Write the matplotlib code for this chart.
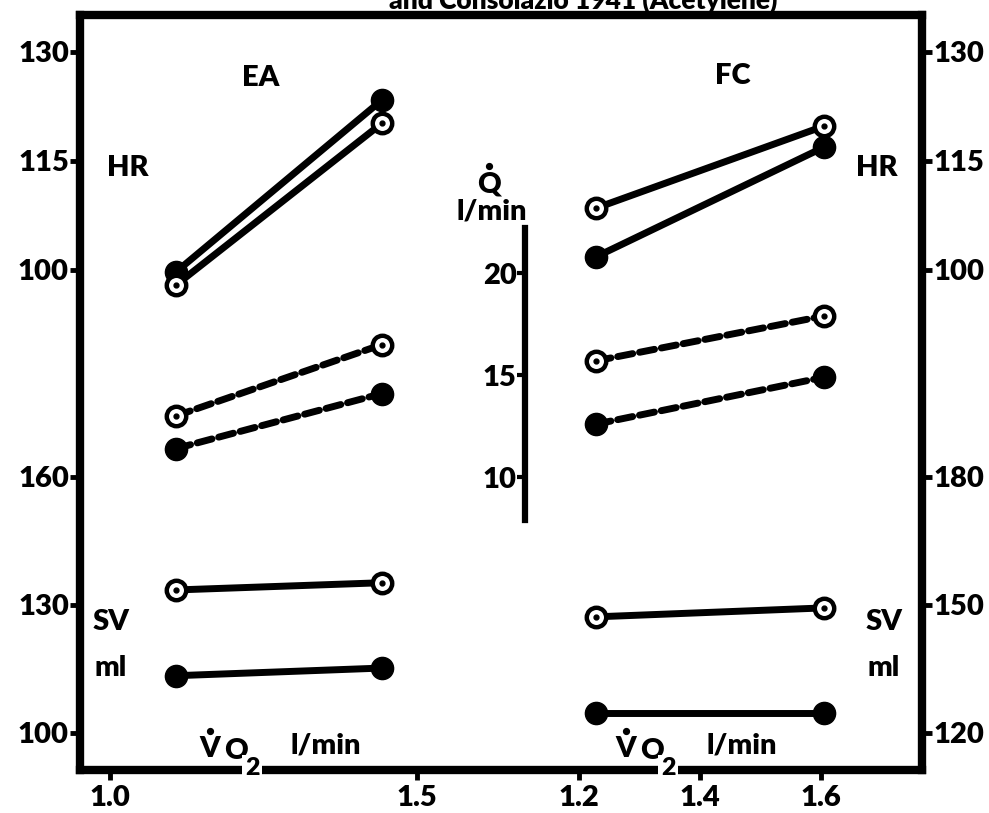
import matplotlib
matplotlib.use("Agg")
import matplotlib.pyplot as plt
from matplotlib.lines import Line2D

plt.rcParams['font.family'] = ['Lato', 'DejaVu Sans']
plt.rcParams['font.weight'] = 'heavy'

# ---- data -------------------------------------------------------------
# O2 uptake (l/min) at the two work levels for each subject
ea_vo2 = [1.107, 1.443]
fc_vo2 = [1.228, 1.605]

# heart rate (beats/min): open = first series, filled = second series
ea_hr_open = [97.9, 120.2]
ea_hr_filled = [99.7, 123.4]
fc_hr_open = [108.5, 119.8]
fc_hr_filled = [101.8, 116.9]

# cardiac output Q (l/min)
ea_q_open = [13.0, 16.5]
ea_q_filled = [11.4, 14.1]
fc_q_open = [15.7, 17.9]
fc_q_filled = [12.6, 14.9]

# stroke volume (ml)
ea_sv_open = [133.5, 135.2]
ea_sv_filled = [113.4, 115.2]
fc_sv_open = [147.2, 149.3]
fc_sv_filled = [124.7, 124.7]

# tick values / labels
ea_xticks = [1.0, 1.5]
fc_xticks = [1.2, 1.4, 1.6]
hr_ticks = [100, 115, 130]
sv_left_ticks = [100, 130, 160]
sv_right_ticks = [120, 150, 180]
q_ticks = [10, 15, 20]

# ---- figure ------------------------------------------------------------
W, H = 989, 813
fig = plt.figure(figsize=(W / 100, H / 100), dpi=100)
fig.patch.set_facecolor('white')

L, R, T, B = 80, 922, 15, 770
rect = [L / W, 1 - B / H, (R - L) / W, (B - T) / H]

ea_xlim = (0.951, 2.3225)
fc_xlim = (0.3752, 1.767)
hr_ylim = (31.17, 135.09)
sv_l_ylim = (91.3, 268.28)
sv_r_ylim = (sv_l_ylim[0] + 20, sv_l_ylim[1] + 20)
q_ylim = (-4.35, 32.65)

FS = 21
WT = 'heavy'
SPW = 6.0


def new_axes(xlim, ylim, zorder):
    ax = fig.add_axes(rect, zorder=zorder)
    ax.set_xlim(*xlim)
    ax.set_ylim(*ylim)
    ax.patch.set_visible(False)
    for s in ax.spines.values():
        s.set_visible(False)
    ax.set_xticks([])
    ax.set_yticks([])
    return ax


ax_ea_hr = new_axes(ea_xlim, hr_ylim, 5)
ax_ea_q = new_axes(ea_xlim, q_ylim, 5)
ax_ea_sv = new_axes(ea_xlim, sv_l_ylim, 5)
ax_fc_hr = new_axes(fc_xlim, hr_ylim, 5)
ax_fc_q = new_axes(fc_xlim, q_ylim, 5)
ax_fc_sv = new_axes(fc_xlim, sv_r_ylim, 5)

# frame
for ax, side in [(ax_ea_hr, 'left'), (ax_ea_hr, 'top'), (ax_ea_hr, 'bottom'), (ax_fc_hr, 'right')]:
    ax.spines[side].set_visible(True)
    ax.spines[side].set_linewidth(SPW)
    ax.spines[side].set_capstyle('projecting')

tick_kw = dict(direction='out', length=7, width=3.5, labelsize=FS, pad=1)

# left axis: HR and SV scales
ax_ea_hr.set_yticks(hr_ticks)
ax_ea_hr.yaxis.set_ticks_position('left')
ax_ea_hr.tick_params(axis='y', **tick_kw)
ax_ea_sv.set_yticks(sv_left_ticks)
ax_ea_sv.yaxis.set_ticks_position('left')
ax_ea_sv.tick_params(axis='y', **tick_kw)

# right axis: HR and SV scales
ax_fc_hr.yaxis.tick_right()
ax_fc_hr.set_yticks(hr_ticks)
ax_fc_hr.tick_params(axis='y', **tick_kw)
ax_fc_sv.yaxis.tick_right()
ax_fc_sv.set_yticks(sv_right_ticks)
ax_fc_sv.tick_params(axis='y', **tick_kw)

# bottom axis: two VO2 scales
ax_ea_hr.set_xticks(ea_xticks)
ax_ea_hr.set_xticklabels([f'{v:.1f}' for v in ea_xticks])
ax_ea_hr.tick_params(axis='x', direction='out', length=7, width=3.5, labelsize=FS, pad=4)
ax_fc_hr.xaxis.set_ticks_position('bottom')
ax_fc_hr.set_xticks(fc_xticks)
ax_fc_hr.set_xticklabels([f'{v:.1f}' for v in fc_xticks])
ax_fc_hr.tick_params(axis='x', direction='out', length=7, width=3.5, labelsize=FS, pad=4)

# central Q scale
ax_ea_q.spines['left'].set_visible(True)
ax_ea_q.spines['left'].set_position(('axes', (525 - L) / (R - L)))
ax_ea_q.spines['left'].set_bounds(7.9, 22.2)
ax_ea_q.spines['left'].set_linewidth(4.5)
ax_ea_q.set_yticks(q_ticks)
ax_ea_q.yaxis.set_ticks_position('left')
ax_ea_q.tick_params(axis='y', direction='out', length=6, width=3, labelsize=FS, pad=0)

for ax in fig.axes:
    for lab in ax.get_xticklabels() + ax.get_yticklabels():
        lab.set_fontweight(WT)

# ---- series -----------------------------------------------------------
LW = 5
MS_F = 16
MS_O = 14


def draw(ax, x, y, filled, dashed):
    ls = (0, (2.2, 1.0)) if dashed else '-'
    ax.plot(x, y, color='black', lw=LW, ls=ls, dash_capstyle='round',
            solid_capstyle='round', zorder=3)
    if filled:
        ax.plot(x, y, ls='none', marker='o', ms=MS_F, mfc='black', mec='black', zorder=4)
    else:
        ax.plot(x, y, ls='none', marker='o', ms=MS_O, mfc='white', mec='black',
                mew=3.2, zorder=4)
        ax.plot(x, y, ls='none', marker='o', ms=3.5, mfc='black', mec='black', zorder=5)


draw(ax_ea_hr, ea_vo2, ea_hr_filled, True, False)
draw(ax_ea_hr, ea_vo2, ea_hr_open, False, False)
draw(ax_ea_q, ea_vo2, ea_q_open, False, True)
draw(ax_ea_q, ea_vo2, ea_q_filled, True, True)
draw(ax_ea_sv, ea_vo2, ea_sv_open, False, False)
draw(ax_ea_sv, ea_vo2, ea_sv_filled, True, False)

draw(ax_fc_hr, fc_vo2, fc_hr_open, False, False)
draw(ax_fc_hr, fc_vo2, fc_hr_filled, True, False)
draw(ax_fc_q, fc_vo2, fc_q_open, False, True)
draw(ax_fc_q, fc_vo2, fc_q_filled, True, True)
draw(ax_fc_sv, fc_vo2, fc_sv_open, False, False)
draw(ax_fc_sv, fc_vo2, fc_sv_filled, True, False)

# ---- labels -----------------------------------------------------------
def px_text(x, y, s, size=FS, ha='center', va='center', **kw):
    fig.text(x / W, 1 - y / H, s, fontsize=size, fontweight=WT, ha=ha, va=va, **kw)


def px_dot(x, y):
    # rate dot placed over a symbol (Q-dot, V-dot)
    fig.add_artist(Line2D([x / W], [1 - y / H], marker='o', ms=4.2, color='black',
                          ls='none', transform=fig.transFigure))


px_text(583, 0, 'and Consolazio 1941 (Acetylene)', size=19)
px_text(261, 78, 'EA')
px_text(733, 76, 'FC')
px_text(128, 168, 'HR')
px_text(877, 168, 'HR')
px_text(489, 185, 'Q')
px_dot(489, 166)
px_text(492, 211, 'l/min')
px_text(111, 622, 'SV')
px_text(111, 668, 'ml')
px_text(884, 622, 'SV')
px_text(884, 668, 'ml')

for x0 in (210, 626):
    px_text(x0, 749, 'V')
    px_dot(x0, 731)
    px_text(x0 + 26, 751, 'O')
    px_text(x0 + 42, 768, '2', size=18,
            bbox=dict(boxstyle='square,pad=0.1', fc='white', ec='none'), zorder=10)
    px_text(x0 + 80, 745, 'l/min', ha='left')

fig.savefig('out.png', dpi=100, facecolor='white')
